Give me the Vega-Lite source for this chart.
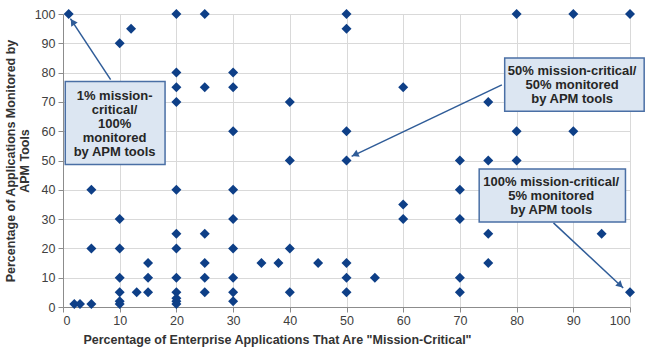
{
  "$schema": "https://vega.github.io/schema/vega-lite/v6.json",
  "width": 567,
  "height": 293,
  "autosize": "none",
  "padding": {"left": 63, "top": 14, "right": 20, "bottom": 45},
  "background": "white",
  "config": {
    "view": {"stroke": null},
    "font": "Liberation Sans",
    "axis": {"tickCount": 11, "labelOverlap": false, "grid": true, "gridColor": "#d9d9d9", "domainColor": "#8c8c8c", "tickColor": "#8c8c8c", "tickSize": 5, "labelFontSize": 12.5, "labelColor": "#404040", "titleFontSize": 12.5, "titleFontWeight": "bold", "titleColor": "#333333"}
  },
  "datasets": {
    "pts": [
      {"x":1,"y":100},{"x":20,"y":100},{"x":25,"y":100},{"x":50,"y":100},{"x":80,"y":100},{"x":90,"y":100},{"x":100,"y":100},
      {"x":12,"y":95},{"x":50,"y":95},
      {"x":10,"y":90},
      {"x":20,"y":80},{"x":30,"y":80},
      {"x":20,"y":75},{"x":25,"y":75},{"x":30,"y":75},{"x":60,"y":75},
      {"x":20,"y":70},{"x":40,"y":70},{"x":75,"y":70},
      {"x":30,"y":60},{"x":50,"y":60},{"x":80,"y":60},{"x":90,"y":60},
      {"x":40,"y":50},{"x":50,"y":50},{"x":70,"y":50},{"x":75,"y":50},{"x":80,"y":50},
      {"x":5,"y":40},{"x":20,"y":40},{"x":30,"y":40},{"x":70,"y":40},
      {"x":60,"y":35},
      {"x":10,"y":30},{"x":30,"y":30},{"x":60,"y":30},{"x":70,"y":30},
      {"x":20,"y":25},{"x":25,"y":25},{"x":75,"y":25},{"x":95,"y":25},
      {"x":5,"y":20},{"x":10,"y":20},{"x":20,"y":20},{"x":30,"y":20},{"x":40,"y":20},
      {"x":15,"y":15},{"x":25,"y":15},{"x":35,"y":15},{"x":38,"y":15},{"x":45,"y":15},{"x":50,"y":15},{"x":75,"y":15},
      {"x":10,"y":10},{"x":15,"y":10},{"x":20,"y":10},{"x":25,"y":10},{"x":30,"y":10},{"x":50,"y":10},{"x":55,"y":10},{"x":70,"y":10},
      {"x":10,"y":5},{"x":13,"y":5},{"x":15,"y":5},{"x":20,"y":5},{"x":25,"y":5},{"x":30,"y":5},{"x":40,"y":5},{"x":50,"y":5},{"x":70,"y":5},{"x":100,"y":5},
      {"x":10,"y":2},{"x":20,"y":3},{"x":20,"y":2},{"x":30,"y":2},
      {"x":2,"y":1},{"x":3,"y":1},{"x":5,"y":1},{"x":10,"y":1},{"x":20,"y":1}
    ],
    "arrows": [
      {"id":"a","x":8.4,"y":77.6,"x2":1.3,"y2":98.4},
      {"id":"b","x":77.4,"y":75.8,"x2":50.9,"y2":51.4},
      {"id":"c","x":86.5,"y":28.7,"x2":98.8,"y2":6.5}
    ],
    "heads": [
      {"id":"a","x":1.7,"y":97.3},
      {"id":"b","x":51.5,"y":52.0},
      {"id":"c","x":98.3,"y":7.4}
    ],
    "boxes": [
      {"id":"a","x":0.4,"x2":18.0,"y":48.6,"y2":77.0,"cx":9.1,"cy":71.9,"label":"1% mission-\ncritical/\n100%\nmonitored\nby APM tools"},
      {"id":"b","x":77.9,"x2":102.5,"y":66.8,"y2":85.0,"cx":89.8,"cy":80.6,"label":"50% mission-critical/\n50% monitored\nby APM tools"},
      {"id":"c","x":73.4,"x2":99.2,"y":29.0,"y2":47.1,"cx":86.1,"cy":42.5,"label":"100% mission-critical/\n5% monitored\nby APM tools"}
    ]
  },
  "layer": [
    {
      "data": {"name": "pts"},
      "mark": {"type": "point", "shape": "diamond", "filled": true, "size": 100, "color": "#0e3f87", "opacity": 1},
      "encoding": {
        "x": {
          "field": "x", "type": "quantitative",
          "scale": {"domain": [0, 100], "nice": false},
          "axis": {
            "values": [0,10,20,30,40,50,60,70,80,90,100],
            "labelPadding": 2,
            "title": "Percentage of Enterprise Applications That Are \"Mission-Critical\"",
            "titlePadding": 7, "titleX": 214, "titleAlign": "center"
          }
        },
        "y": {
          "field": "y", "type": "quantitative",
          "scale": {"domain": [0, 100], "nice": false},
          "axis": {
            "values": [0,10,20,30,40,50,60,70,80,90,100],
            "labelPadding": 3,
            "title": ["Percentage of Applications Monitored by", "APM Tools"],
            "titleLineHeight": 14, "titlePadding": 3
          }
        }
      }
    },
    {
      "data": {"name": "arrows"},
      "mark": {"type": "rule", "color": "#2f5c98", "strokeWidth": 1.5},
      "encoding": {
        "x": {"field": "x", "type": "quantitative"},
        "y": {"field": "y", "type": "quantitative"},
        "x2": {"field": "x2"},
        "y2": {"field": "y2"}
      }
    },
    {
      "data": {"name": "heads"},
      "transform": [{"filter": "datum.id === 'a'"}],
      "mark": {"type": "point", "shape": "triangle-up", "filled": true, "size": 60, "color": "#2f5c98", "opacity": 1, "angle": 327},
      "encoding": {"x": {"field": "x", "type": "quantitative"}, "y": {"field": "y", "type": "quantitative"}}
    },
    {
      "data": {"name": "heads"},
      "transform": [{"filter": "datum.id === 'b'"}],
      "mark": {"type": "point", "shape": "triangle-up", "filled": true, "size": 60, "color": "#2f5c98", "opacity": 1, "angle": 244.5},
      "encoding": {"x": {"field": "x", "type": "quantitative"}, "y": {"field": "y", "type": "quantitative"}}
    },
    {
      "data": {"name": "heads"},
      "transform": [{"filter": "datum.id === 'c'"}],
      "mark": {"type": "point", "shape": "triangle-up", "filled": true, "size": 60, "color": "#2f5c98", "opacity": 1, "angle": 133},
      "encoding": {"x": {"field": "x", "type": "quantitative"}, "y": {"field": "y", "type": "quantitative"}}
    },
    {
      "data": {"name": "boxes"},
      "mark": {"type": "rect", "fill": "#dce6f2", "stroke": "#4a6fa5", "strokeWidth": 1.5},
      "encoding": {
        "x": {"field": "x", "type": "quantitative"},
        "x2": {"field": "x2"},
        "y": {"field": "y", "type": "quantitative"},
        "y2": {"field": "y2"}
      }
    },
    {
      "data": {"name": "boxes"},
      "mark": {"type": "text", "font": "Liberation Sans", "fontSize": 13, "fontWeight": "bold", "color": "#262626", "align": "center", "baseline": "middle", "lineBreak": "\n", "lineHeight": 14},
      "encoding": {
        "x": {"field": "cx", "type": "quantitative"},
        "y": {"field": "cy", "type": "quantitative"},
        "text": {"field": "label"}
      }
    }
  ]
}
